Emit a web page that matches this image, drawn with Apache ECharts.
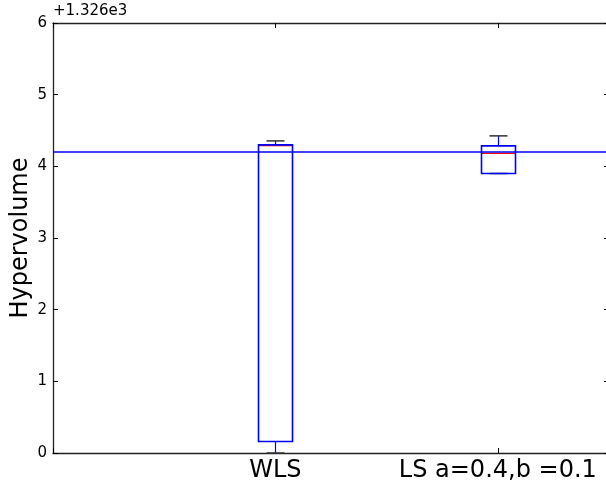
<!DOCTYPE html>
<html>
<head>
<meta charset="utf-8">
<script src="https://cdn.jsdelivr.net/npm/echarts@6/dist/echarts.min.js"></script>
<style>
html,body{margin:0;padding:0;background:#fff;}
#chart{width:606px;height:483px;}
</style>
</head>
<body>
<div id="chart"></div>
<script>
// Data (values relative to offset +1.326e3)
var categories = ['WLS', 'LS a=0.4,b =0.1'];
var positions = [1, 2];
var lows    = [0.0,  3.90];
var q1s     = [0.16, 3.90];
var medians = [4.29, 4.18];
var q3s     = [4.30, 4.285];
var highs   = [4.355, 4.425];
var refValue = 4.2;
var yTicks = [0, 1, 2, 3, 4, 5, 6];
var offsetText = '+1.326e3';
var yTitle = 'Hypervolume';

var boxData = positions.map(function (p, i) {
  return [p, lows[i], q1s[i], medians[i], q3s[i], highs[i]];
});

var chart = echarts.init(document.getElementById('chart'), null, {renderer: 'canvas'});
var font = 'DejaVu Sans';

function renderBox(params, api) {
  var p = api.value(0);
  var lo = api.coord([p, api.value(1)]);
  var q1 = api.coord([p, api.value(2)]);
  var md = api.coord([p, api.value(3)]);
  var q3 = api.coord([p, api.value(4)]);
  var hi = api.coord([p, api.value(5)]);
  var x = Math.round(q1[0]) + 0.5;
  var hw = 17, cw = 9;
  var blue = '#0000ff';
  return {
    type: 'group',
    children: [
      {type: 'line', shape: {x1: x, y1: q3[1], x2: x, y2: hi[1]}, style: {stroke: blue, lineWidth: 1.2}},
      {type: 'line', shape: {x1: x, y1: q1[1], x2: x, y2: lo[1]}, style: {stroke: blue, lineWidth: 1.2}},
      {type: 'line', shape: {x1: x - cw, y1: hi[1], x2: x + cw, y2: hi[1]}, style: {stroke: '#333', lineWidth: 1.5}},
      {type: 'line', shape: {x1: x - cw, y1: lo[1], x2: x + cw, y2: lo[1]}, style: {stroke: '#333', lineWidth: 1.5}},
      {type: 'line', shape: {x1: x - hw, y1: md[1], x2: x + hw, y2: md[1]}, style: {stroke: '#ff0000', lineWidth: 1.2}},
      {type: 'rect', shape: {x: x - hw, y: q3[1], width: 2 * hw, height: q1[1] - q3[1]}, style: {fill: 'none', stroke: blue, lineWidth: 1.6}}
    ]
  };
}

var axisLineStyle = {show: true, onZero: false, lineStyle: {color: '#222', width: 1.3}};
var tickStyle = {show: true, inside: true, length: 5, lineStyle: {color: '#000'}};

var option = {
  backgroundColor: '#fff',
  animation: false,
  grid: {left: 53, top: 23, width: 556, height: 430, show: false, containLabel: false, outerBoundsMode: 'none'},
  xAxis: [{
    type: 'value', min: 0, max: 2.5, interval: 1,
    axisLine: axisLineStyle,
    axisTick: tickStyle,
    splitLine: {show: false},
    axisLabel: {
      show: true, margin: 6, fontFamily: font, fontSize: 24, color: '#000',
      showMaxLabel: false,
      formatter: function (v) {
        var i = positions.indexOf(v);
        return i >= 0 ? categories[i] : '';
      }
    }
  }, {
    type: 'value', min: 0, max: 2.5, interval: 1, position: 'top',
    axisLine: axisLineStyle,
    axisTick: tickStyle,
    splitLine: {show: false},
    axisLabel: {show: false}
  }],
  yAxis: [{
    type: 'value', min: yTicks[0], max: yTicks[yTicks.length - 1], interval: 1,
    axisLine: axisLineStyle,
    axisTick: tickStyle,
    splitLine: {show: false},
    axisLabel: {margin: 6, fontFamily: font, fontSize: 15, color: '#000'}
  }, {
    type: 'value', min: yTicks[0], max: yTicks[yTicks.length - 1], interval: 1, position: 'right',
    axisLine: axisLineStyle,
    axisTick: tickStyle,
    splitLine: {show: false},
    axisLabel: {show: false}
  }],
  graphic: [{
    type: 'text', left: 53, top: 4,
    style: {text: offsetText, font: '15px "DejaVu Sans"', fill: '#000'}
  }, {
    type: 'text', x: 21, y: 238, rotation: Math.PI / 2,
    style: {text: yTitle, font: '24px "DejaVu Sans"', fill: '#000', align: 'center', verticalAlign: 'middle'}
  }],
  series: [{
    type: 'custom',
    renderItem: renderBox,
    data: boxData,
    encode: {x: 0, y: [1, 2, 3, 4, 5]},
    clip: false,
    z: 3,
    markLine: {
      silent: true,
      symbol: ['none', 'none'],
      label: {show: false},
      lineStyle: {color: '#0000ff', width: 1.5, type: 'solid'},
      data: [{yAxis: refValue}]
    }
  }]
};
chart.setOption(option);
</script>
</body>
</html>
